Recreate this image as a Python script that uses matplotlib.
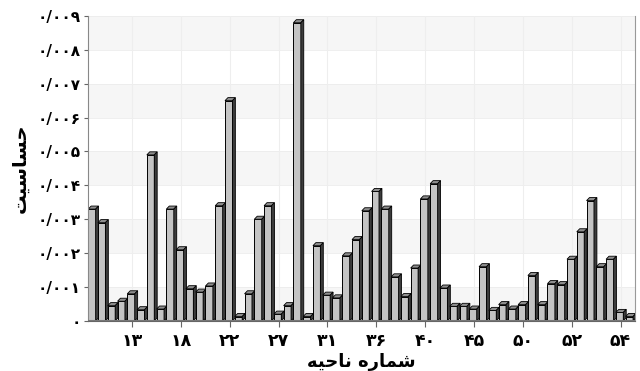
import matplotlib

matplotlib.use("Agg")
import matplotlib.pyplot as plt

# Sensitivity per region (56 regions in chart order).
values = [
    0.00330, 0.00290, 0.00045, 0.00058, 0.00080, 0.00033, 0.00490, 0.00035,
    0.00330, 0.00210, 0.00095, 0.00085, 0.00103, 0.00340, 0.00650, 0.00013,
    0.00080, 0.00300, 0.00340, 0.00020, 0.00045, 0.00880, 0.00013, 0.00222,
    0.00076, 0.00068, 0.00192, 0.00240, 0.00325, 0.00382, 0.00330, 0.00130,
    0.00072, 0.00156, 0.00360, 0.00405, 0.00097, 0.00043, 0.00043, 0.00035,
    0.00160, 0.00031, 0.00048, 0.00035, 0.00048, 0.00134, 0.00048, 0.00110,
    0.00107, 0.00182, 0.00263, 0.00355, 0.00160, 0.00182, 0.00025, 0.00013,
]

# Every fifth bar carries a region label (Persian digits).
label_positions = [4, 9, 14, 19, 24, 29, 34, 39, 44, 49, 54]
region_labels = ["۱۳", "۱۸", "۲۲", "۲۷", "۳۱", "۳۶", "۴۰", "۴۵", "۵۰", "۵۲", "۵۴"]

y_ticks = [0, 0.001, 0.002, 0.003, 0.004, 0.005, 0.006, 0.007, 0.008, 0.009]
y_tick_labels = ["۰", "۰/۰۰۱", "۰/۰۰۲", "۰/۰۰۳", "۰/۰۰۴",
                 "۰/۰۰۵", "۰/۰۰۶", "۰/۰۰۷", "۰/۰۰۸", "۰/۰۰۹"]

# Persian titles written in shaped (presentation) forms, visual order,
# because matplotlib does not do Arabic-script shaping.
y_title = "\uFE96\uFEF4\uFEB3\uFE8E\uFEB4\uFEA3"            # حساسیت
x_title = ("\uFEEA\uFEF4\uFEA3\uFE8E\uFEE7 "                # ناحیه
           "\uFEE9\uFEAD\uFE8E\uFEE4\uFEB7")                # شماره

FRONT = "#c4c4c4"
TOP = "#8e8e8e"
SIDE = "#3c3c3c"
W = 0.76      # front face width (slots)
DX = 0.30     # depth offset in x (slots)
DY = 0.00009  # depth offset in y (data units)

fig = plt.figure(figsize=(6.4, 3.71), dpi=100)
ax = fig.add_axes([0.1375, 0.135, 0.855, 0.822])

# Faint alternating bands on the back wall.
for lo in y_ticks[::2]:
    ax.axhspan(lo, lo + 0.001, color="#f6f6f6", zorder=0, lw=0)
for y in y_ticks[1:]:
    ax.axhline(y, color="#ececec", lw=0.6, zorder=0.5)
for p in label_positions:
    ax.axvline(p, color="#eeeeee", lw=0.8, zorder=0.5)

for i, v in enumerate(values):
    x0 = i - 0.1 - W / 2
    x1 = x0 + W
    z = 2 + i * 0.01
    ax.bar(x0, v, width=W, align="edge", color=FRONT, edgecolor="black",
           lw=0.7, zorder=z)
    ax.fill([x0, x1, x1 + DX, x0 + DX], [v, v, v + DY, v + DY],
            facecolor=TOP, edgecolor="black", lw=0.6, zorder=z)
    ax.fill([x1, x1 + DX, x1 + DX, x1], [0, DY, v + DY, v],
            facecolor=SIDE, edgecolor="black", lw=0.6, zorder=z)

# Floor slab under the bars.
ax.axhline(0, color="#777777", lw=2.2, zorder=3)

ax.set_xlim(-0.5, len(values) - 0.5)
ax.set_ylim(0, 0.009)
ax.set_xticks(label_positions)
ax.set_xticklabels(region_labels, fontsize=12.5, fontweight="bold")
ax.set_yticks(y_ticks)
ax.set_yticklabels(y_tick_labels, fontsize=11, fontweight="bold")
ax.tick_params(axis="x", length=4, color="#666666", pad=4)
ax.tick_params(axis="y", length=3, color="#666666", pad=2)

ax.spines["top"].set_visible(False)
ax.spines["right"].set_color("#999999")
ax.spines["left"].set_color("#888888")
ax.spines["bottom"].set_color("#666666")

ax.set_ylabel(y_title, fontsize=14, fontweight="bold", labelpad=6)
ax.set_xlabel(x_title, fontsize=13, fontweight="bold", labelpad=2)

fig.savefig("out.png", dpi=100)
